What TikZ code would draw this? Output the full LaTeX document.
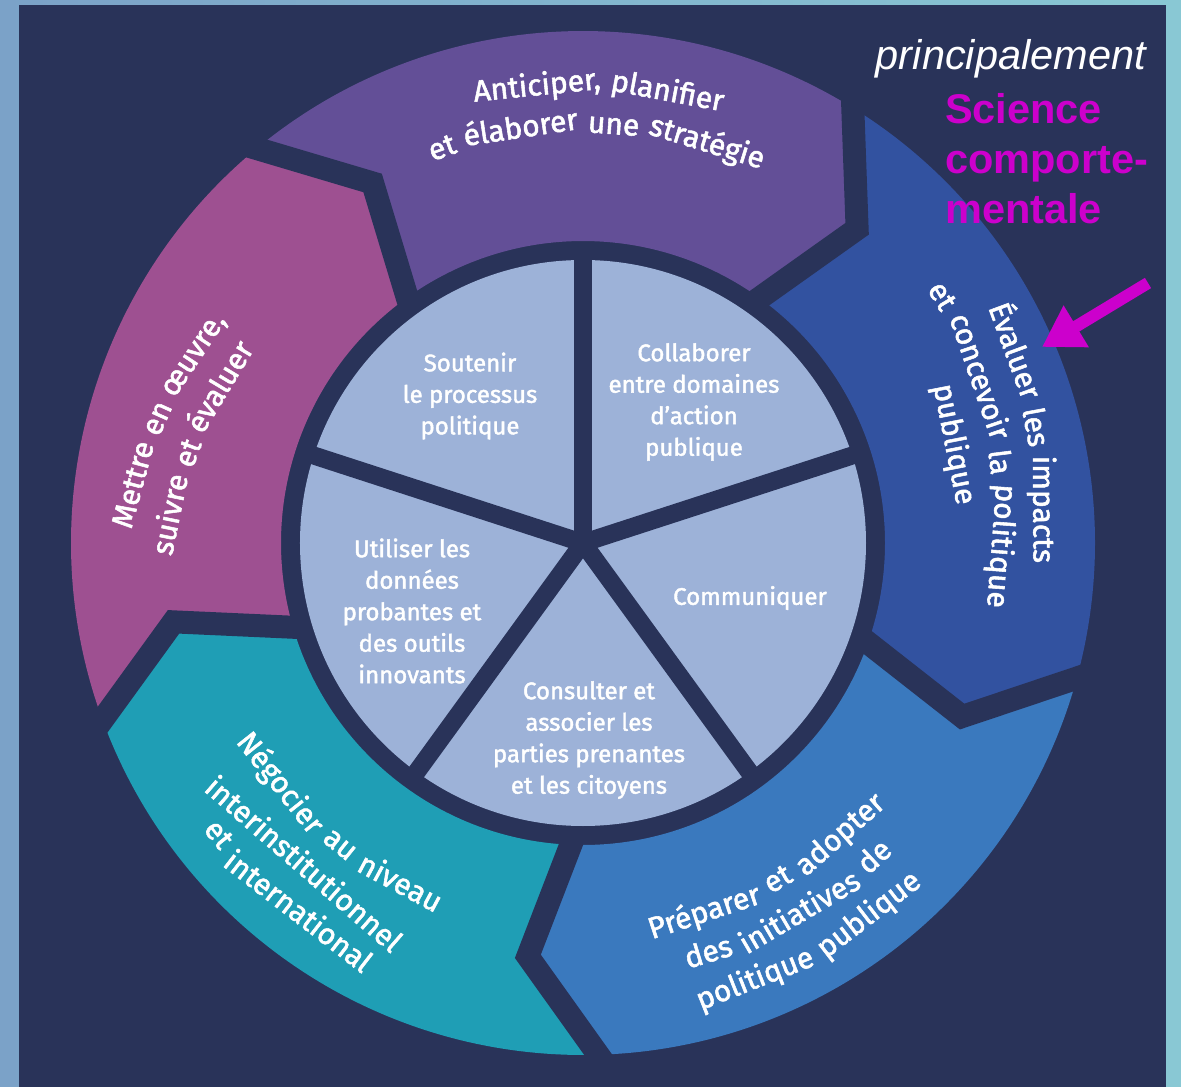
\documentclass[tikz,border=0pt]{standalone}
\usepackage{fontspec}
\usetikzlibrary{arrows.meta}
\newfontfamily\wheelfont{Fira Sans}[FakeBold=1.8]
\newfontfamily\notefont{Liberation Sans}
\newcommand\ringfont{\wheelfont\fontsize{30}{36}\selectfont}
\definecolor{bgnavy}{HTML}{293359}
\definecolor{pieblue}{HTML}{9DB2D8}
\definecolor{plumfill}{HTML}{634F97}
\definecolor{orchidfill}{HTML}{9E5091}
\definecolor{royalfill}{HTML}{3252A0}
\definecolor{skyfill}{HTML}{3A79BE}
\definecolor{tealfill}{HTML}{1F9EB5}
\definecolor{frameleft}{HTML}{7BA2C8}
\definecolor{frameright}{HTML}{89C8D4}
\definecolor{notepink}{HTML}{CC00CC}

% words of one ring line, set along an arc round the centre (measured before the picture)
% #1 centre angle, #2 baseline radius, #3 -1 clockwise / 1 counter-clockwise, #4 words, #5 name, #6 tilt
\newdimen\wordlen
\newdimen\gaplen
\gdef\ringwords{}
\newcommand\arcwords[6]{%
    \settowidth\gaplen{\ringfont\ }%
    \ifnum#3>0 \advance\gaplen by 3pt\fi
    \gdef\arcsum{0}%
    \foreach \w in {#4}{%
        \settowidth\wordlen{\ringfont\w}%
        \pgfmathsetmacro\arcnew{\arcsum+\the\wordlen+\the\gaplen}%
        \global\let\arcsum\arcnew}%
    \pgfmathsetmacro\arcstart{-(\arcsum-\the\gaplen)/2}%
    \global\let\arcrun\arcstart
    \foreach \w [count=\i] in {#4}{%
        \settowidth\wordlen{\ringfont\w}%
        \pgfmathsetmacro\arcang{#1+(#3)*deg((\arcrun+\the\wordlen/2)/(#2))}%
        \pgfmathsetmacro\arcx{#2*cos(#1)+#2*(cos(\arcang)-cos(#1))*cos(#6)-#2*(sin(\arcang)-sin(#1))*sin(#6)}%
        \pgfmathsetmacro\arcy{#2*sin(#1)+#2*(cos(\arcang)-cos(#1))*sin(#6)+#2*(sin(\arcang)-sin(#1))*cos(#6)}%
        \pgfmathsetmacro\arcrot{\arcang+(#3)*90+(#6)}%
        \xdef\ringwords{\unexpanded\expandafter{\ringwords}%
            \noexpand\node[ringword, rotate=\arcrot] (#5-\i) at (\arcx,\arcy) {\unexpanded\expandafter{\w}};}%
        \pgfmathsetmacro\arcnew{\arcrun+\the\wordlen+\the\gaplen}%
        \global\let\arcrun\arcnew}%
}

\begin{document}
\arcwords{88}{450}{-1}{{Anticiper,},planifier}{anticiper1}{0}%
\arcwords{88}{410}{-1}{et,élaborer,une,stratégie}{anticiper2}{0}%
\arcwords{14}{457}{-1}{Évaluer,les,impacts}{evaluer1}{-4}%
\arcwords{14}{416}{-1}{et,concevoir,la,politique}{evaluer2}{-4}%
\arcwords{15}{375}{-1}{publique}{evaluer3}{-4}%
\arcwords{-60.5}{398}{1}{Préparer,et,adopter}{preparer1}{0}%
\arcwords{-60.5}{438}{1}{des,initiatives,de}{preparer2}{0}%
\arcwords{-60.5}{478}{1}{politique,publique}{preparer3}{0}%
\arcwords{-131}{396}{1}{Négocier,au,niveau}{negocier1}{0}%
\arcwords{-131}{436}{1}{interinstitutionnel}{negocier2}{0}%
\arcwords{-130}{476}{1}{et,international}{negocier3}{0}%
\arcwords{163.5}{434}{-1}{Mettre,en,{œuvre,}}{mettre1}{-8}%
\arcwords{166}{394}{-1}{suivre,et,évaluer}{mettre2}{-8}%
\begin{tikzpicture}[x=1pt,y=1pt,
    slicetext/.style={text=white, align=center, font=\wheelfont\fontsize{24}{31.5}\selectfont},
    ringword/.style={text=white, inner sep=0, anchor=base, font=\ringfont},
    gap/.style={bgnavy, line width=23, line cap=rect, line join=miter}]
    % frame and background
    \useasboundingbox (-583,-544) rectangle (598,543);
    \shade[left color=frameleft, right color=frameright] (-583,-544) rectangle (598,543);
    \fill[bgnavy] (-564,-544) rectangle (583,538);
    % outer ring of arrows
    \foreach \a/\b/\c in {129.6/58.2/plumfill, 58.2/-15.3/royalfill, -15.3/-88.3/skyfill, -88.3/-159.8/tealfill, -159.8/-230.4/orchidfill}
        \fill[\c] (\a:512) arc[start angle=\a, end angle=\b, radius=512] -- (\b-9.3:417) -- (\b-4:302)
            arc[start angle=\b-4, end angle=\a-4, radius=302] -- (\a-9.3:417) -- cycle;
    \foreach \a in {129.6,58.2,-15.3,-88.3,-159.8}
        \draw[gap] (\a:512) -- (\a-9.3:417) -- (\a-4:302);
    % inner pie
    \fill[pieblue] (0,0) circle[radius=283];
    \foreach \a in {90,18,-54,-126,162}
        \draw[bgnavy, line width=18] (0,0) -- (\a:290);
    % ring labels
    \ringwords
    % pie labels
    \node[slicetext] (soutenir) at (-113,147) {Soutenir\\le processus\\politique};
    \node[slicetext] (collaborer) at (111,141) {Collaborer\\entre domaines\\d’action\\publique};
    \node[slicetext] (communiquer) at (167,-55) {Communiquer};
    \node[slicetext] (consulter) at (6,-197) {Consulter et\\associer les\\parties prenantes\\et les citoyens};
    \node[slicetext] (utiliser) at (-171,-68) {Utiliser les\\données\\probantes et\\des outils\\innovants};
    % note on the right
    \node[anchor=base east, inner sep=0, text=white, font=\notefont\itshape\fontsize{41.5}{48}\selectfont] (principal) at (563,473) {principalement};
    \node[anchor=north west, inner sep=0, align=left, text=notepink, font=\notefont\bfseries\fontsize{41.5}{50}\selectfont] (science) at (362,450) {Science\\comporte-\\mentale};
    \coordinate (arrowtail) at (565,260);
    \coordinate (arrowtip) at (459,196);
    \draw[notepink, line width=12, -{Triangle[length=40pt, width=46pt]}] (arrowtail) -- (arrowtip);
\end{tikzpicture}
\end{document}
